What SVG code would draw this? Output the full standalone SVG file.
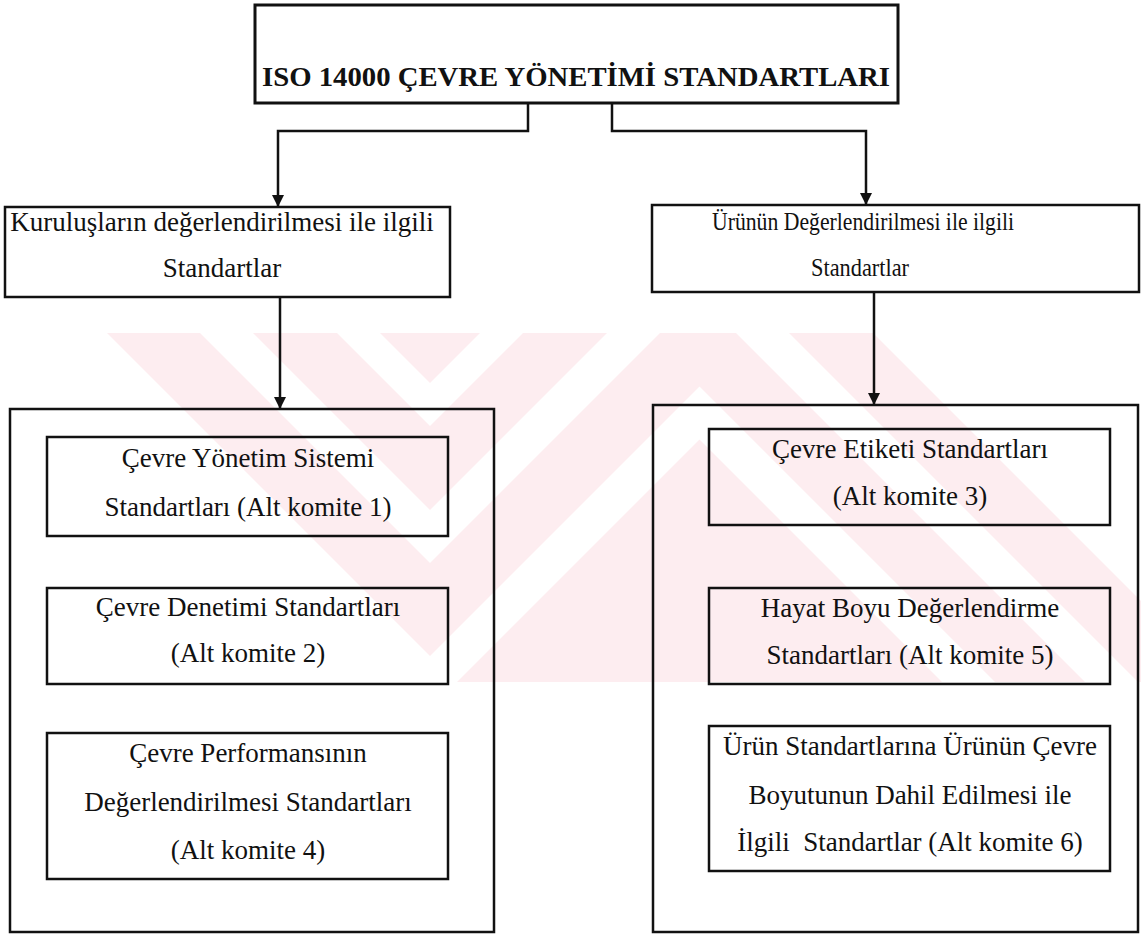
<svg xmlns="http://www.w3.org/2000/svg" width="1141" height="952" viewBox="0 0 1141 952">
  <style>
    .frame { fill: none; stroke: #111; stroke-width: 2.5; }
    .heavy { stroke-width: 3; }
    .label { font-family: "Liberation Serif", "Times New Roman", serif; font-size: 27px; fill: #111; text-anchor: middle; }
    .narrow { font-size: 26px; }
    .title { font-weight: bold; font-size: 28px; }
    .wire { fill: none; stroke: #111; stroke-width: 2.5; }
    .wm { fill: #fdedf0; }
  </style>
  <defs>
    <marker id="head" markerUnits="userSpaceOnUse" markerWidth="12" markerHeight="12" refX="12" refY="6" orient="auto">
      <path d="M0,0 L12,6 L0,12 Z" fill="#111"/>
    </marker>
    <clipPath id="wm-clip">
      <rect x="0" y="333" width="1141" height="349"/>
    </clipPath>
  </defs>

  <rect width="1141" height="952" fill="#fff"/>

  <!-- pale zigzag background mark -->
  <g id="background-mark" class="wm" clip-path="url(#wm-clip)">
    <polygon points="167,300 430,563 698,295 1123,720 1033,720 699.5,386.5 430,656 74,300"/>
    <polygon points="304,300 430,426 698,158 1260,720 1176,720 698,242 430,510 220,300"/>
    <polygon points="347,300 430,383 513,300"/>
    <polygon points="699.5,439.5 980,720 419,720"/>
  </g>

  <!-- connectors -->
  <g id="connectors">
    <path class="wire" d="M528,103 V131 H278 V207" marker-end="url(#head)"/>
    <path class="wire" d="M612,103 V131 H866 V205" marker-end="url(#head)"/>
    <path class="wire" d="M280,297 V409" marker-end="url(#head)"/>
    <path class="wire" d="M874,292 V405" marker-end="url(#head)"/>
  </g>

  <!-- root -->
  <g id="iso-14000">
    <rect class="frame heavy" x="255" y="5" width="643" height="98"/>
    <text class="label title" x="576" y="86" textLength="628" lengthAdjust="spacingAndGlyphs">ISO 14000 ÇEVRE YÖNETİMİ STANDARTLARI</text>
  </g>

  <!-- second level -->
  <g id="kuruluslar">
    <rect class="frame" x="5" y="207" width="445" height="90"/>
    <text class="label" x="222" y="231">Kuruluşların değerlendirilmesi ile ilgili</text>
    <text class="label" x="222" y="277">Standartlar</text>
  </g>
  <g id="urun">
    <rect class="frame" x="652" y="205" width="487" height="87"/>
    <text class="label narrow" x="863" y="230" textLength="302" lengthAdjust="spacingAndGlyphs">Ürünün Değerlendirilmesi ile ilgili</text>
    <text class="label narrow" x="860" y="276" textLength="98" lengthAdjust="spacingAndGlyphs">Standartlar</text>
  </g>

  <!-- left container -->
  <g id="kuruluslar-standartlari">
    <rect class="frame" x="10" y="409" width="484" height="523"/>
  </g>
  <g id="alt-komite-1">
    <rect class="frame" x="47" y="437" width="401" height="99"/>
    <text class="label" x="248" y="467">Çevre Yönetim Sistemi</text>
    <text class="label" x="248" y="516">Standartları (Alt komite 1)</text>
  </g>
  <g id="alt-komite-2">
    <rect class="frame" x="47" y="588" width="401" height="96"/>
    <text class="label" x="248" y="616">Çevre Denetimi Standartları</text>
    <text class="label" x="248" y="662">(Alt komite 2)</text>
  </g>
  <g id="alt-komite-4">
    <rect class="frame" x="47" y="733" width="401" height="146"/>
    <text class="label" x="248" y="762">Çevre Performansının</text>
    <text class="label" x="248" y="811">Değerlendirilmesi Standartları</text>
    <text class="label" x="248" y="859">(Alt komite 4)</text>
  </g>

  <!-- right container -->
  <g id="urun-standartlari">
    <rect class="frame" x="653" y="405" width="485" height="527"/>
  </g>
  <g id="alt-komite-3">
    <rect class="frame" x="709" y="429" width="401" height="96"/>
    <text class="label" x="910" y="458">Çevre Etiketi Standartları</text>
    <text class="label" x="910" y="505">(Alt komite 3)</text>
  </g>
  <g id="alt-komite-5">
    <rect class="frame" x="709" y="588" width="401" height="96"/>
    <text class="label" x="910" y="617">Hayat Boyu Değerlendirme</text>
    <text class="label" x="910" y="664">Standartları (Alt komite 5)</text>
  </g>
  <g id="alt-komite-6">
    <rect class="frame" x="709" y="726" width="401" height="145"/>
    <text class="label" x="910" y="755">Ürün Standartlarına Ürünün Çevre</text>
    <text class="label" x="910" y="804">Boyutunun Dahil Edilmesi ile</text>
    <text class="label" x="910" y="851" xml:space="preserve">İlgili  Standartlar (Alt komite 6)</text>
  </g>
</svg>
